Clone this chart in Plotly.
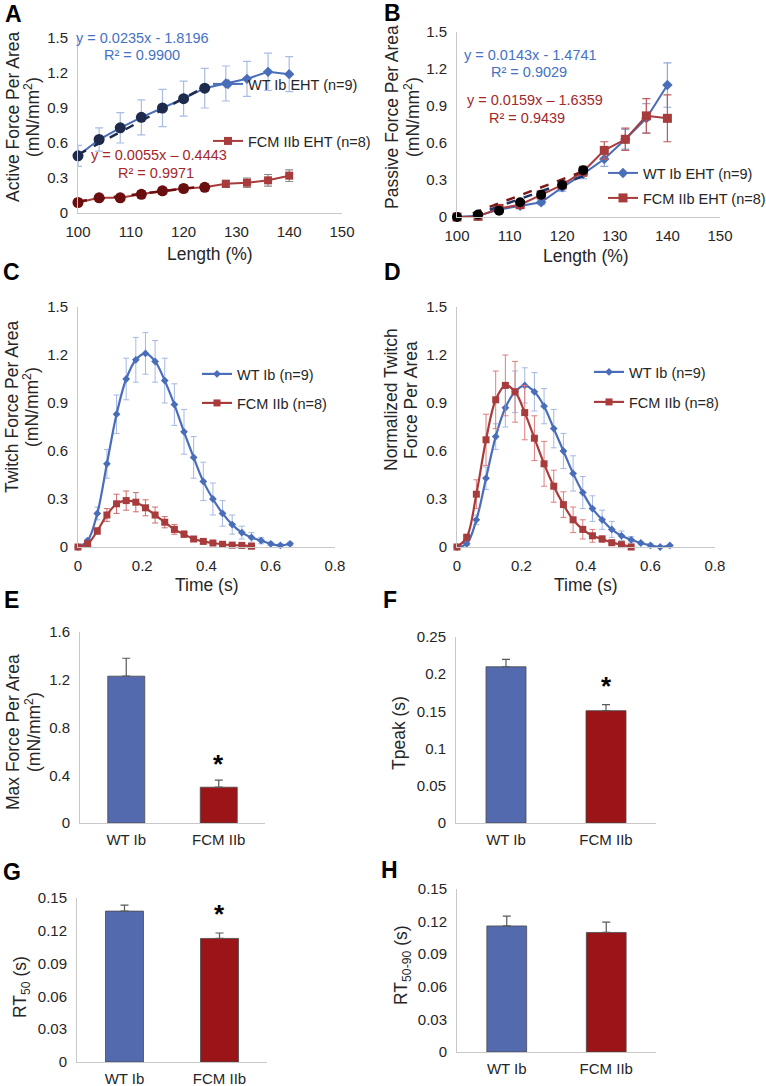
import plotly.graph_objects as go

W, H = 766, 1086

# ---------------- DATA ----------------
length_pct = [100, 104, 108, 112, 116, 120, 124, 128, 132, 136, 140]
fit_len = [100, 104, 108, 112, 116, 120, 124]

A_wt = [0.49, 0.63, 0.73, 0.82, 0.90, 0.98, 1.07, 1.11, 1.15, 1.21, 1.19]
A_wt_err = [0.09, 0.10, 0.13, 0.15, 0.16, 0.15, 0.17, 0.15, 0.15, 0.16, 0.15]
A_fcm = [0.09, 0.13, 0.13, 0.16, 0.19, 0.21, 0.22, 0.25, 0.26, 0.28, 0.32]
A_fcm_err = [0.01, 0.02, 0.02, 0.02, 0.02, 0.02, 0.02, 0.03, 0.04, 0.05, 0.05]
A_wt_fit_pts = [0.49, 0.63, 0.73, 0.82, 0.90, 0.98, 1.07]
A_fcm_fit_pts = [0.09, 0.13, 0.13, 0.16, 0.19, 0.21, 0.22]
A_trend_x = [100, 124]
A_wt_trend = [0.50, 1.08]
A_fcm_trend = [0.10, 0.23]

B_wt = [0.0, 0.01, 0.06, 0.09, 0.12, 0.24, 0.35, 0.47, 0.63, 0.80, 1.07]
B_wt_err = [0.0, 0.01, 0.01, 0.02, 0.02, 0.03, 0.04, 0.06, 0.08, 0.12, 0.18]
B_fcm = [0.0, 0.005, 0.07, 0.10, 0.18, 0.26, 0.37, 0.54, 0.63, 0.82, 0.80]
B_fcm_err = [0.0, 0.01, 0.01, 0.02, 0.02, 0.02, 0.04, 0.07, 0.09, 0.14, 0.19]
B_fit_pts = [0.0, 0.02, 0.05, 0.12, 0.18, 0.26, 0.38]
B_trend_x = [103, 124]
B_wt_trend = [0.01, 0.33]
B_fcm_trend = [0.03, 0.37]

time_wt = [0, 0.03, 0.06, 0.09, 0.12, 0.15, 0.18, 0.21, 0.24, 0.27, 0.30, 0.33,
           0.36, 0.39, 0.42, 0.45, 0.48, 0.51, 0.54, 0.57, 0.60, 0.63, 0.66]
time_fcm = [0, 0.03, 0.06, 0.09, 0.12, 0.15, 0.18, 0.21, 0.24, 0.27, 0.30, 0.33,
            0.36, 0.39, 0.42, 0.45, 0.48, 0.51, 0.54]

C_wt = [0, 0.04, 0.21, 0.52, 0.83, 1.05, 1.17, 1.21, 1.16, 1.04, 0.89, 0.72,
        0.56, 0.41, 0.30, 0.21, 0.14, 0.09, 0.06, 0.04, 0.02, 0.01, 0.02]
C_wt_err = [0, 0.01, 0.04, 0.09, 0.12, 0.13, 0.14, 0.13, 0.13, 0.14, 0.13, 0.14,
            0.13, 0.12, 0.10, 0.08, 0.06, 0.04, 0.03, 0.02, 0.01, 0.01, 0.01]
C_fcm = [0, 0.02, 0.10, 0.20, 0.27, 0.29, 0.28, 0.245, 0.20, 0.155, 0.11, 0.08,
         0.05, 0.035, 0.025, 0.017, 0.012, 0.01, 0.005]
C_fcm_err = [0, 0.01, 0.02, 0.04, 0.06, 0.06, 0.06, 0.05, 0.05, 0.035, 0.03, 0.02,
             0.01, 0.01, 0.01, 0.005, 0.005, 0.005, 0.005]

D_wt = [0, 0.02, 0.17, 0.43, 0.69, 0.87, 0.97, 1.01, 0.97, 0.88, 0.74, 0.60,
        0.46, 0.34, 0.24, 0.17, 0.11, 0.07, 0.045, 0.025, 0.01, 0.0, 0.01]
D_wt_err = [0, 0.01, 0.03, 0.07, 0.08, 0.12, 0.13, 0.11, 0.12, 0.11, 0.12, 0.11,
            0.11, 0.10, 0.08, 0.06, 0.05, 0.03, 0.02, 0.01, 0.01, 0.005, 0.005]
D_fcm = [0, 0.06, 0.33, 0.67, 0.92, 1.01, 0.97, 0.84, 0.68, 0.52, 0.38, 0.265,
         0.17, 0.11, 0.07, 0.05, 0.027, 0.015, 0.0]
D_fcm_err = [0, 0.02, 0.09, 0.16, 0.18, 0.19, 0.19, 0.17, 0.14, 0.14, 0.10, 0.08,
             0.08, 0.06, 0.04, 0.02, 0.01, 0.01, 0.005]

groups = ["WT Ib", "FCM IIb"]
E_vals = [1.23, 0.30]
E_err = [0.15, 0.06]
F_vals = [0.21, 0.151]
F_err = [0.01, 0.008]
G_vals = [0.138, 0.113]
G_err = [0.0055, 0.005]
H_vals = [0.116, 0.110]
H_err = [0.009, 0.0095]

# ---------------- STYLE ----------------
FONT = "Liberation Sans, Arial, sans-serif"
TXT = "#262626"
BLUE = "#4A6DBA"
RED = "#A83B3B"
BAR_BLUE = "#546AAE"
BAR_RED = "#9B1418"
EQ_BLUE = "#4472C4"
EQ_RED = "#A5272A"
AXC = "#C8C8C8"


def px(x):
    return x / W


def py(y):
    return 1 - y / H


fig = go.Figure()

# panel geometry in pixels: (x0, x1, ytop, ybottom)
panels = {
    1: (78, 342, 38, 213),
    2: (457, 720, 32, 217),
    3: (78, 335, 307, 547),
    4: (457, 715, 307, 547),
    5: (80, 265, 632, 823),
    6: (456, 656, 637, 823),
    7: (77, 267, 898, 1062),
    8: (457, 656, 889, 1052),
}


def ax(i):
    return ("x" if i == 1 else f"x{i}"), ("y" if i == 1 else f"y{i}")


def eb(arr, color, width=4, thick=1.2):
    return dict(type="data", array=arr, visible=True, color=color,
                thickness=thick, width=width)


# ---- Panel A ----
xa, ya = ax(1)
fig.add_trace(go.Scatter(x=length_pct, y=A_wt, mode="lines+markers", name="WT Ib EHT (n=9)",
                         line=dict(color=BLUE, width=2), marker=dict(symbol="diamond", size=8, color=BLUE),
                         error_y=eb(A_wt_err, "#A9BCE3"), xaxis=xa, yaxis=ya, legend="legend",
                         cliponaxis=False))
fig.add_trace(go.Scatter(x=length_pct, y=A_fcm, mode="lines+markers", name="FCM IIb EHT (n=8)",
                         line=dict(color=RED, width=2), marker=dict(symbol="square", size=8, color=RED),
                         error_y=eb(A_fcm_err, "#8C8C8C"), xaxis=xa, yaxis=ya, legend="legend2",
                         cliponaxis=False))
fig.add_trace(go.Scatter(x=fit_len, y=A_wt_fit_pts, mode="markers", showlegend=False,
                         marker=dict(symbol="circle", size=11, color="#1E2B4D"), xaxis=xa, yaxis=ya,
                         cliponaxis=False))
fig.add_trace(go.Scatter(x=fit_len, y=A_fcm_fit_pts, mode="markers", showlegend=False,
                         marker=dict(symbol="circle", size=11, color="#6B0E10"), xaxis=xa, yaxis=ya,
                         cliponaxis=False))
fig.add_trace(go.Scatter(x=A_trend_x, y=A_wt_trend, mode="lines", showlegend=False,
                         line=dict(color="#1E2B4D", width=2.5, dash="dash"), xaxis=xa, yaxis=ya))
fig.add_trace(go.Scatter(x=A_trend_x, y=A_fcm_trend, mode="lines", showlegend=False,
                         line=dict(color="#6B0E10", width=2.5, dash="dash"), xaxis=xa, yaxis=ya))

# ---- Panel B ----
xa, ya = ax(2)
fig.add_trace(go.Scatter(x=length_pct, y=B_wt, mode="lines+markers", name="WT Ib EHT (n=9)",
                         line=dict(color=BLUE, width=2), marker=dict(symbol="diamond", size=8, color=BLUE),
                         error_y=eb(B_wt_err, "#8FA8DC"), xaxis=xa, yaxis=ya, legend="legend3",
                         cliponaxis=False))
fig.add_trace(go.Scatter(x=length_pct, y=B_fcm, mode="lines+markers", name="FCM IIb EHT (n=8)",
                         line=dict(color=RED, width=2), marker=dict(symbol="square", size=9, color=RED),
                         error_y=eb(B_fcm_err, "#C05A5A"), xaxis=xa, yaxis=ya, legend="legend4",
                         cliponaxis=False))
fig.add_trace(go.Scatter(x=B_trend_x, y=B_wt_trend, mode="lines", showlegend=False,
                         line=dict(color="#1F3464", width=2.5, dash="dash"), xaxis=xa, yaxis=ya))
fig.add_trace(go.Scatter(x=B_trend_x, y=B_fcm_trend, mode="lines", showlegend=False,
                         line=dict(color="#7A1A1A", width=2.5, dash="dash"), xaxis=xa, yaxis=ya))
fig.add_trace(go.Scatter(x=fit_len, y=B_fit_pts, mode="markers", showlegend=False,
                         marker=dict(symbol="circle", size=10, color="#000000"), xaxis=xa, yaxis=ya,
                         cliponaxis=False))

# ---- Panel C ----
xa, ya = ax(3)
fig.add_trace(go.Scatter(x=time_wt, y=C_wt, mode="lines+markers", name="WT Ib (n=9)",
                         line=dict(color=BLUE, width=2.2, shape="spline"),
                         marker=dict(symbol="diamond", size=6, color=BLUE),
                         error_y=eb(C_wt_err, "#A4B8E4", 3, 1), xaxis=xa, yaxis=ya, legend="legend5",
                         cliponaxis=False))
fig.add_trace(go.Scatter(x=time_fcm, y=C_fcm, mode="lines+markers", name="FCM IIb (n=8)",
                         line=dict(color=RED, width=2.2, shape="spline"),
                         marker=dict(symbol="square", size=7, color=RED),
                         error_y=eb(C_fcm_err, "#D06A6A", 3, 1), xaxis=xa, yaxis=ya, legend="legend6",
                         cliponaxis=False))

# ---- Panel D ----
xa, ya = ax(4)
fig.add_trace(go.Scatter(x=time_wt, y=D_wt, mode="lines+markers", name="WT Ib (n=9)",
                         line=dict(color=BLUE, width=2.2, shape="spline"),
                         marker=dict(symbol="diamond", size=6, color=BLUE),
                         error_y=eb(D_wt_err, "#A4B8E4", 3, 1), xaxis=xa, yaxis=ya, legend="legend7",
                         cliponaxis=False))
fig.add_trace(go.Scatter(x=time_fcm, y=D_fcm, mode="lines+markers", name="FCM IIb (n=8)",
                         line=dict(color=RED, width=2.2, shape="spline"),
                         marker=dict(symbol="square", size=7, color=RED),
                         error_y=eb(D_fcm_err, "#E07C7C", 3, 1), xaxis=xa, yaxis=ya, legend="legend8",
                         cliponaxis=False))

# ---- Bars E-H ----
for i, vals, errs in [(5, E_vals, E_err), (6, F_vals, F_err), (7, G_vals, G_err), (8, H_vals, H_err)]:
    xa, ya = ax(i)
    fig.add_trace(go.Bar(x=groups, y=vals, width=0.4, showlegend=False,
                         marker=dict(color=[BAR_BLUE, BAR_RED], line=dict(color="#4A4A4A", width=0.8)),
                         error_y=dict(type="data", array=errs, arrayminus=[0, 0], symmetric=False,
                                      color="#595959", thickness=1.2, width=4),
                         xaxis=xa, yaxis=ya))

# ---------------- AXES ----------------
axis_cfg = {
    1: dict(xr=[100, 150], xd=10, yr=[0, 1.5], yd=0.3),
    2: dict(xr=[100, 150], xd=10, yr=[0, 1.5], yd=0.3),
    3: dict(xr=[0, 0.8], xd=0.2, yr=[0, 1.5], yd=0.3),
    4: dict(xr=[0, 0.8], xd=0.2, yr=[0, 1.5], yd=0.3),
    5: dict(xr=None, xd=None, yr=[0, 1.6], yd=0.4),
    6: dict(xr=None, xd=None, yr=[0, 0.25], yd=0.05),
    7: dict(xr=None, xd=None, yr=[0, 0.15], yd=0.03),
    8: dict(xr=None, xd=None, yr=[0, 0.15], yd=0.03),
}
tickfont = dict(family=FONT, size=15, color=TXT)
layout_axes = {}
for i, (x0, x1, yt, yb) in panels.items():
    c = axis_cfg[i]
    xname = "xaxis" if i == 1 else f"xaxis{i}"
    yname = "yaxis" if i == 1 else f"yaxis{i}"
    xa, ya = ax(i)
    xd = dict(domain=[px(x0), px(x1)], anchor=ya, showline=True, linecolor=AXC, linewidth=1,
              showgrid=False, zeroline=False, ticks="outside", ticklen=5,
              tickcolor="rgba(0,0,0,0)", tickfont=tickfont, fixedrange=True, automargin=False)
    if c["xr"] is not None:
        xd.update(range=c["xr"], dtick=c["xd"], tick0=c["xr"][0])
    else:
        xd.update(type="category", range=[-0.5, 1.5], ticklen=3)
    yd = dict(domain=[py(yb), py(yt)], anchor=xa, showline=True, linecolor=AXC, linewidth=1,
              showgrid=False, zeroline=False, range=c["yr"], dtick=c["yd"], tick0=0,
              ticks="outside", ticklen=6, tickcolor="rgba(0,0,0,0)", tickfont=tickfont,
              fixedrange=True, automargin=False)
    layout_axes[xname] = xd
    layout_axes[yname] = yd

# ---------------- ANNOTATIONS ----------------
ann = []


def txt(x, y, text, size=14, color=TXT, angle=0, bold=False, xanchor="center", yanchor="middle"):
    t = f"<b>{text}</b>" if bold else text
    ann.append(dict(x=px(x), y=py(y), xref="paper", yref="paper", text=t, showarrow=False,
                    textangle=angle, xanchor=xanchor, yanchor=yanchor,
                    font=dict(family=FONT, size=size, color=color)))


# panel letters
for lab, x, y in [("A", 13, 14), ("B", 392, 13), ("C", 12, 272), ("D", 392, 272),
                  ("E", 11, 600), ("F", 390, 600), ("G", 12, 872), ("H", 389, 870)]:
    txt(x, y, lab, size=23, color="#000000", bold=True)

TS = 17.5
# x titles
txt(210, 254, "Length (%)", size=TS)
txt(586, 256, "Length (%)", size=TS)
txt(207, 585, "Time (s)", size=TS)
txt(586, 585, "Time (s)", size=TS)

# y titles
txt(13, 117, "Active Force Per Area", size=TS, angle=-90)
txt(32, 117, "(mN/mm<sup>2</sup>)", size=TS, angle=-90)
txt(392, 117, "Passive Force Per Area", size=TS, angle=-90)
txt(412, 117, "(mN/mm<sup>2</sup>)", size=TS, angle=-90)
txt(12, 407, "Twitch Force Per Area", size=TS, angle=-90)
txt(31, 407, "(mN/mm<sup>2</sup>)", size=TS, angle=-90)
txt(391, 400, "Normalized Twitch", size=TS, angle=-90)
txt(411, 400, "Force Per Area", size=TS, angle=-90)
txt(13, 732, "Max Force Per Area", size=TS, angle=-90)
txt(33, 732, "(mN/mm<sup>2</sup>)", size=TS, angle=-90)
txt(399, 733, "Tpeak (s)", size=TS, angle=-90)
txt(21, 987, "RT<sub>50</sub> (s)", size=TS, angle=-90)
txt(402, 965, "RT<sub>50-90</sub> (s)", size=TS, angle=-90)

# equations
ES = 14.5
txt(142, 38, "y = 0.0235x - 1.8196", size=ES, color=EQ_BLUE)
txt(142, 55, "R² = 0.9900", size=ES, color=EQ_BLUE)
txt(159, 155, "y = 0.0055x – 0.4443", size=ES, color=EQ_RED)
txt(156, 173, "R² = 0.9971", size=ES, color=EQ_RED)
txt(530, 55, "y = 0.0143x - 1.4741", size=ES, color=EQ_BLUE)
txt(529, 72, "R² = 0.9029", size=ES, color=EQ_BLUE)
txt(535, 100, "y = 0.0159x – 1.6359", size=ES, color=EQ_RED)
txt(527, 118, "R² = 0.9439", size=ES, color=EQ_RED)

# stars
for i, yv in [(5, 0.536), (6, 0.191), (7, 0.140)]:
    xa, ya = ax(i)
    ann.append(dict(x="FCM IIb", y=yv, xref=xa, yref=ya, text="<b>*</b>", showarrow=False,
                    yshift=-5, font=dict(family=FONT, size=26, color="#000000")))

# ---------------- LEGENDS ----------------
legfont = dict(family=FONT, size=14.5, color=TXT)


def leg(textx, y):
    return dict(x=px(textx - 40), y=py(y), xanchor="left", yanchor="middle",
                xref="paper", yref="paper", bgcolor="rgba(0,0,0,0)", borderwidth=0,
                font=legfont, itemwidth=30)


legends = {
    "legend": leg(248, 84),
    "legend2": leg(248, 141),
    "legend3": leg(643, 173),
    "legend4": leg(643, 198),
    "legend5": leg(237, 374),
    "legend6": leg(237, 403),
    "legend7": leg(629, 372),
    "legend8": leg(629, 402),
}

fig.update_layout(
    template="none",
    width=W, height=H, margin=dict(l=0, r=0, t=0, b=0, pad=0, autoexpand=False),
    paper_bgcolor="white", plot_bgcolor="white",
    font=dict(family=FONT, size=14, color=TXT),
    annotations=ann, showlegend=True, hovermode=False,
    **layout_axes, **legends,
)

# remove the default 8px page margin so the 766x1086 figure fills the window exactly
fig.write_html("out.html",
               config={"displayModeBar": False, "staticPlot": True},
               post_script="document.body.style.margin='0px';document.body.style.overflow='hidden';")
